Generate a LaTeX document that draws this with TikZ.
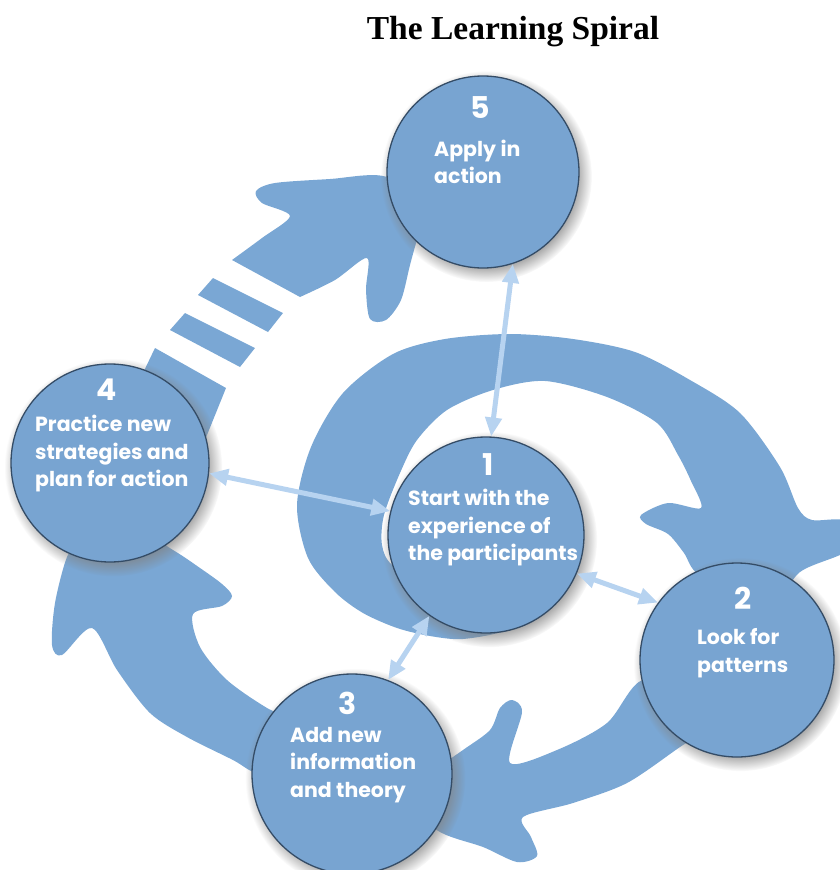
\documentclass[tikz,border=0pt]{standalone}
\usepackage{fontspec}
\setsansfont{Poppins}
\newfontfamily\titlefont{Liberation Serif}
\usepackage{tikz}
\usetikzlibrary{arrows.meta, shadows}

\definecolor{bandblue}{RGB}{122,167,212}
\definecolor{stageblue}{RGB}{120,164,209}
\definecolor{linkblue}{RGB}{183,211,240}
\definecolor{rimblue}{RGB}{52,76,102}

\begin{document}
\begin{tikzpicture}[x=1pt, y=-1pt,
    band/.style={fill=bandblue},
    stage/.style={circle, minimum size=#1, inner sep=0pt, fill=stageblue,
      draw=rimblue, line width=1.3pt,
      circular drop shadow={shadow xshift=3pt, shadow yshift=-4pt, opacity=.7}},
    num/.style={text=white, inner sep=0pt, font=\sffamily\bfseries\fontsize{30}{30}\selectfont},
    lbl/.style={text=white, inner sep=0pt, anchor=west, align=left,
      font=\sffamily\bfseries\fontsize{20.5}{27.5}\selectfont},
    link/.style={draw=linkblue, line width=5pt,
      {Triangle[length=19pt, width=16pt]}-{Triangle[length=19pt, width=16pt]}}]

  % Frame
  \useasboundingbox (0,0) rectangle (840,870);
  \clip (0,0) rectangle (840,870);

  % Title
  \node[anchor=base, font=\titlefont\bfseries\fontsize{33.5}{34}\selectfont] (title) at (513,39) {The Learning Spiral};

  % Inner spiral, ends at 2
  \fill[band] plot[smooth cycle, tension=.5] coordinates {
    (505,630) (463,639) (430,636) (397,628) (363,613) (335,592) (308,558)
    (297,505) (311,447) (343,393) (393,354) (445,339) (510,334) (573,339)
    (635,352) (690,380) (740,413) (780,467) (798,508) (812,520) (845,521)
    (848,550) (800,572) (765,612) (700,576) (684,553) (668,534) (646,524)
    (641,515) (668,503) (701,508) (691,481) (678,455) (657,423) (607,397)
    (545,381) (493,390) (447,410) (417,440) (400,473) (384,515) (382,545)
    (393,566) (440,600) (490,612)};

  % Arrow 2 -> 3
  \fill[band] plot[smooth cycle, tension=.5] coordinates {
    (700,700) (643,680) (607,723) (557,750) (510,763) (522,712) (512,700)
    (500,708) (490,730) (463,750) (420,780) (400,800) (440,832) (483,847)
    (517,862) (537,856) (531,837) (523,817) (573,803) (627,783) (680,747)
    (720,720)};

  % Arrow 3 -> 4
  \fill[band] plot[smooth cycle, tension=.5] coordinates {
    (300,775) (257,773) (233,760) (187,737) (150,713) (117,670) (92,628)
    (62,655) (52,645) (55,603) (67,557) (80,545) (120,520) (173,550)
    (200,568) (222,584) (232,596) (222,606) (193,614) (200,647) (227,680)
    (267,708) (310,730)};

  % Broken arrow 4 -> 5
  \foreach \k in {0,1}
    \fill[band, shift={(-28*\k,35*\k)}] (213,278) -- (283,313) -- (268,332) -- (198,295) -- cycle;
  \fill[band] (155,348) -- (226,388) -- (205,440) -- (130,400) -- cycle;
  \fill[band] (300,297) -- plot[smooth, tension=.5] coordinates {
    (232,260) (262,238) (290,216) (262,203) (256,191) (275,183) (330,179)
    (383,176) (430,200) (417,240) (410,265) (401,300) (386,320) (370,319)
    (366,290) (367,258) (335,280) (300,297)} -- cycle;

  % Stages
  \node[stage=196pt] (c1) at (486,535) {};
  \node[stage=194pt] (c2) at (737,660) {};
  \node[stage=200pt] (c3) at (352,774) {};
  \node[stage=198pt] (c4) at (110,463) {};
  \node[stage=192pt] (c5) at (483,172) {};

  % Numbers
  \node[num] (n1) at (488,465) {1};
  \node[num] (n2) at (743,598) {2};
  \node[num] (n3) at (348,703) {3};
  \node[num] (n4) at (107,390) {4};
  \node[num] (n5) at (480,108) {5};

  % Texts
  \node[lbl] (t1) at (408,528) {Start with the\\experience of\\the participants};
  \node[lbl] (t2) at (697,653) {Look for\\patterns};
  \node[lbl] (t3) at (290,765) {Add new\\information\\and theory};
  \node[lbl] (t4) at (35,454) {Practice new\\strategies and\\plan for action};
  \node[lbl] (t5) at (434,162) {Apply in\\action};

  % Links to the centre
  \draw[link] (c5.-72.9) -- (c1.87.8);
  \draw[link] (c4.-6.2) -- (c1.166.8);
  \draw[link] (c1.-23.9) -- (c2.144.7);
  \draw[link] (c1.-125) -- (c3.69.6);

\end{tikzpicture}
\end{document}
